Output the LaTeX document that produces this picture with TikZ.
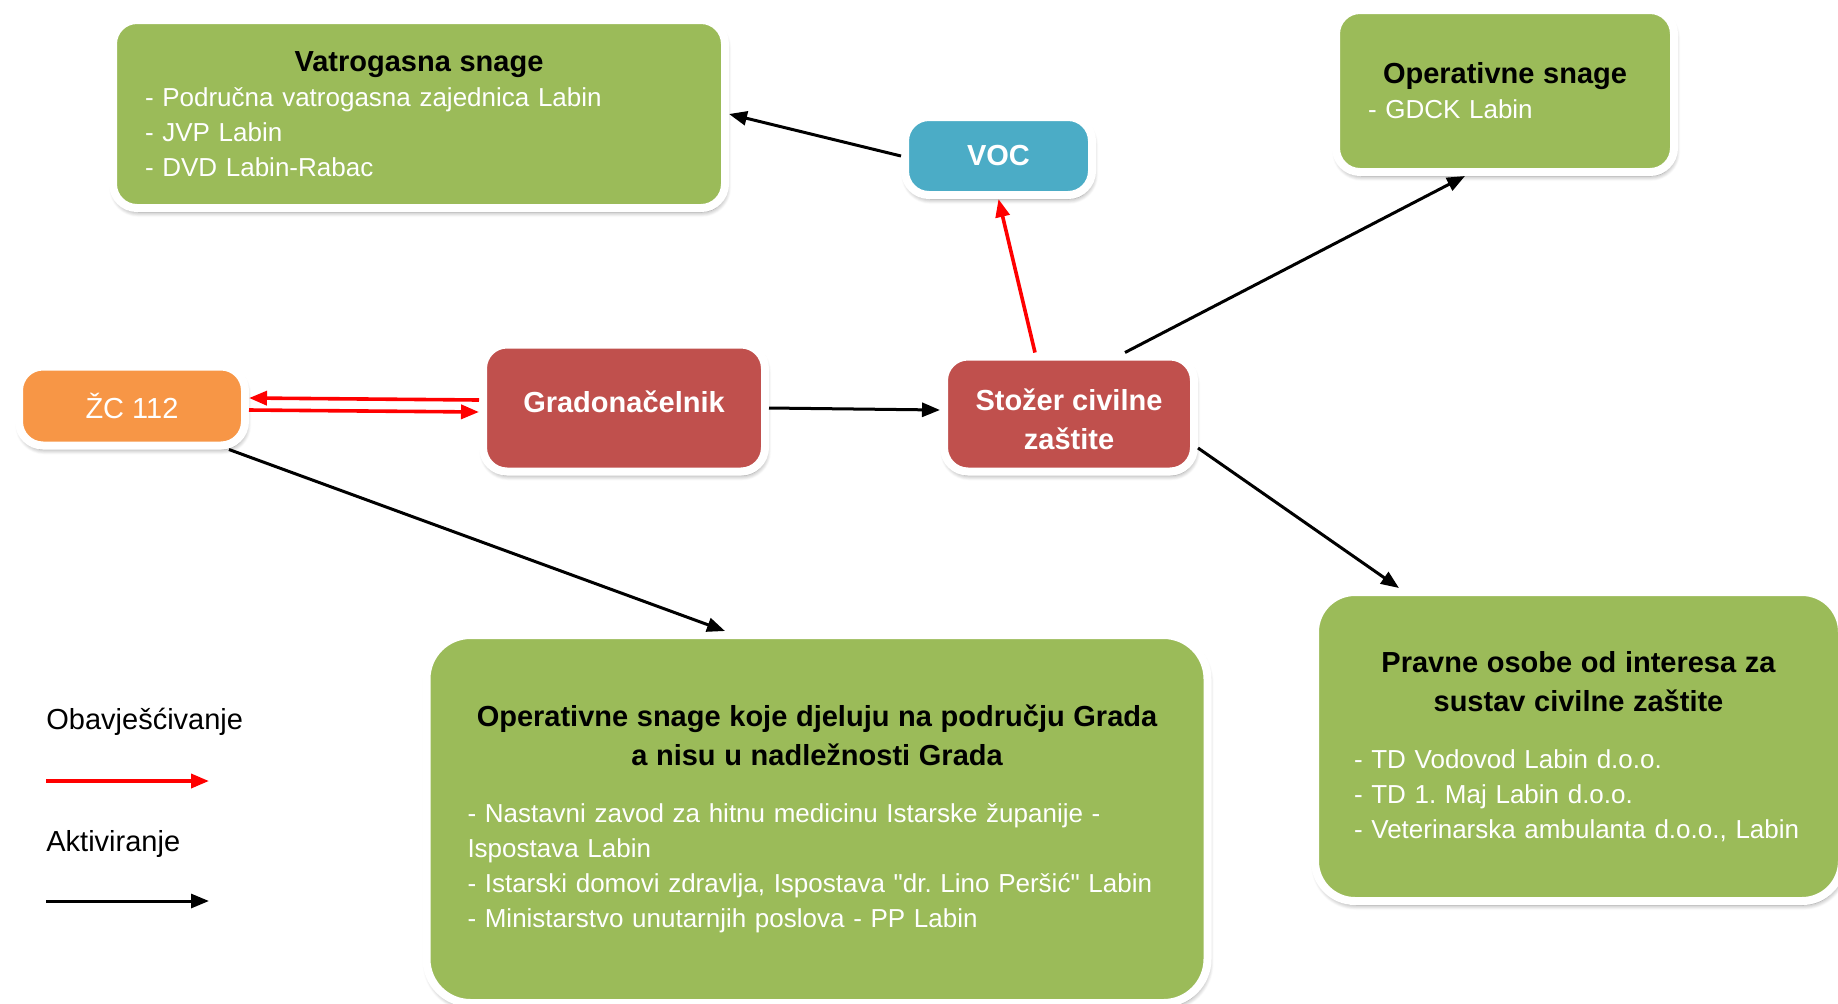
\documentclass[tikz,border=0pt]{standalone}
\usepackage{fontspec}
\setmainfont{Liberation Sans}[Ligatures=TeXOff]
\usetikzlibrary{shadows.blur,arrows.meta}

\definecolor{boxgreen}{HTML}{9BBB59}
\definecolor{boxred}{HTML}{C0504D}
\definecolor{boxblue}{HTML}{4BACC6}
\definecolor{boxorange}{HTML}{F79646}

\newcommand{\itemfont}{\fontsize{13pt}{17.5pt}\selectfont}
\newcommand{\headfont}{\fontsize{14.5pt}{19.5pt}\selectfont\bfseries}
\newcommand{\boxtitle}[1]{{\centering\color{black}\headfont #1\par}}

\tikzset{
  panel/.style={
    rounded corners=12pt,
    draw=white,
    line width=4pt,
    inner sep=0pt,
    blur shadow={shadow xshift=0.6pt, shadow yshift=-2pt, shadow blur radius=2.5pt,
                 shadow blur steps=8, shadow opacity=45},
  },
  green panel/.style={panel, fill=boxgreen, text=white, align=left, font=\itemfont},
  head panel/.style={panel, fill=boxred, text=white, align=center, font=\headfont},
  activate/.style={-{Triangle[length=9pt,width=7pt]}, line width=1.5pt},
  inform/.style={activate, draw=red, fill=red, line width=1.8pt},
  legend/.style={anchor=west, inner sep=0pt, font=\fontsize{14.5pt}{17pt}\selectfont},
}

\begin{document}
\frenchspacing
\begin{tikzpicture}[x=0.5pt, y=-0.5pt]
    \useasboundingbox (0,0) rectangle (1838,1003);

    % gornji red
    \node[green panel, inner xsep=16pt, text width=274pt, minimum height=94pt] (vatro) at (419,114)
        {\boxtitle{Vatrogasna snage}- Područna vatrogasna zajednica Labin\\- JVP Labin\\- DVD Labin-Rabac};
    \node[panel, fill=boxblue, text=white, font=\headfont, minimum width=93.5pt, minimum height=39pt] (voc) at (998.5,156) {VOC};
    \node[green panel, inner xsep=16pt, text width=137pt, minimum height=81pt] (opsnage) at (1505,91)
        {\boxtitle{Operativne snage}- GDCK Labin};

    % srednji red
    \node[panel, fill=boxorange, text=white, font=\fontsize{14.5pt}{17pt}\selectfont, minimum width=113pt, minimum height=39.5pt] (zc) at (132,406) {ŽC 112};
    \node[head panel, minimum width=141pt, minimum height=63.5pt] (grad) at (624,408)
        {\raisebox{3pt}[\height][\depth]{Gradonačelnik}};
    \node[head panel, minimum width=125pt, minimum height=57.5pt] (stozer) at (1069,414)
        {\raisebox{-4pt}[\height][\depth]{\begin{tabular}{@{}c@{}}Stožer civilne\\zaštite\end{tabular}}};

    % donji red
    \node[green panel, rounded corners=22pt, inner xsep=20.5pt, text width=349.5pt, minimum height=184pt] (opgrad) at (817,819)
        {\boxtitle{Operativne snage koje djeluju na području Grada\\a nisu u nadležnosti Grada}\vspace{11pt}%
        - Nastavni zavod za hitnu medicinu Istarske županije -\\Ispostava Labin\\%
        - Istarski domovi zdravlja, Ispostava "dr. Lino Peršić" Labin\\%
        - Ministarstvo unutarnjih poslova - PP Labin};
    \node[green panel, rounded corners=20pt, inner xsep=18pt, text width=227.5pt, minimum height=154.5pt] (pravne) at (1578.5,746.5)
        {\boxtitle{Pravne osobe od interesa za\\sustav civilne zaštite}\vspace{11pt}%
        \hspace*{1.5pt}- TD Vodovod Labin d.o.o.\\\hspace*{1.5pt}- TD 1. Maj Labin d.o.o.\\\hspace*{1.5pt}- Veterinarska ambulanta d.o.o., Labin};

    % legenda
    \node[legend] (obav) at (46,722) {Obavješćivanje};
    \coordinate (r1) at (46,781);
    \coordinate (r2) at (209,781);
    \node[legend] (aktiv) at (46,844) {Aktiviranje};
    \coordinate (b1) at (46,901);
    \coordinate (b2) at (209,901);

    \draw[inform] (r1) -- (r2);
    \draw[activate] (b1) -- (b2);

    % obavjescivanje
    \draw[inform] ([yshift=4pt]grad.west) -- ([yshift=4pt]zc.east);
    \draw[inform] ([yshift=-2pt]zc.east) -- ([yshift=-2pt]grad.west);
    \draw[inform] ([xshift=-17pt]stozer.north) -- (voc.south);

    % aktiviranje
    \draw[activate] (voc.west) -- (vatro.east);
    \draw[activate] (grad.east) -- ([yshift=2pt]stozer.west);
    \draw[activate] ([xshift=28pt]stozer.north) -- ([xshift=-20pt]opsnage.south);
    \draw[activate] ([yshift=-17pt]stozer.east) -- ([xshift=44pt]pravne.north west);
    \draw[activate] ([xshift=-10pt]zc.south east) -- ([xshift=-46pt]opgrad.north);

\end{tikzpicture}
\end{document}
